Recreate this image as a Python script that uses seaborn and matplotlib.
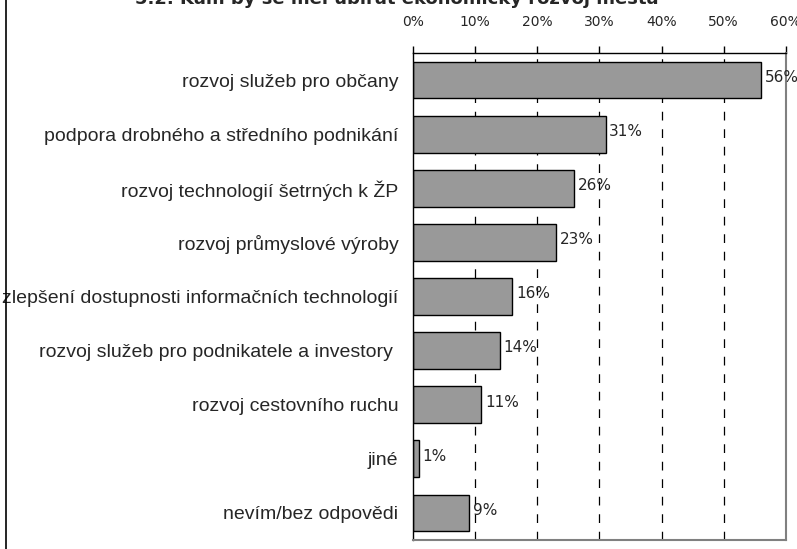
import matplotlib.pyplot as plt
import matplotlib.lines as mlines
import numpy as np
import seaborn as sns
import pandas as pd

# Kam by se měl ubírat ekonomický rozvoj města - podíl odpovědí (%)
categories = [
    "rozvoj služeb pro občany",
    "podpora drobného a středního podnikání",
    "rozvoj technologií šetrných k ŽP",
    "rozvoj průmyslové výroby",
    "zlepšení dostupnosti informačních technologií",
    "rozvoj služeb pro podnikatele a investory ",
    "rozvoj cestovního ruchu",
    "jiné",
    "nevím/bez odpovědi",
]
values = [56, 31, 26, 23, 16, 14, 11, 1, 9]
x_ticks = [0, 10, 20, 30, 40, 50, 60]
title = "5.2. Kam by se měl ubírat ekonomický rozvoj města"

df = pd.DataFrame({"kategorie": categories, "podil": values})

sns.set_style("white")
plt.rcParams['font.family'] = ['DejaVu Sans']

fig = plt.figure(figsize=(7.97, 5.49), dpi=100)
ax = fig.add_axes([0.518, 0.0164, 0.468, 0.8871])

sns.barplot(data=df, x="podil", y="kategorie", orient="h", color="#999999",
            edgecolor="black", linewidth=1.0, width=0.68, saturation=1, ax=ax)

ax.set_xlim(0, 60)
ax.set_ylim(len(categories) - 0.5, -0.5)

# osa x nahoře
ax.xaxis.tick_top()
ax.set_xticks(x_ticks)
ax.set_xticklabels([f"{t}%" for t in x_ticks], fontsize=10)
ax.tick_params(axis="x", direction="out", length=5, width=1, pad=12, color="black")
ax.set_xlabel("")
ax.set_ylabel("")

# čárkovaná mřížka
for t in x_ticks[1:-1]:
    ax.axvline(t, color="black", linestyle=(0, (7, 7)), linewidth=0.9, zorder=0)

# popisky kategorií, tiky mezi kategoriemi
ax.set_yticks(range(len(categories)))
ax.set_yticklabels(categories, fontsize=14, family="Liberation Sans")
ax.tick_params(axis="y", which="major", length=0, pad=10.5)
ax.set_yticks(np.arange(-0.5, len(categories), 1), minor=True)
ax.tick_params(axis="y", which="minor", direction="out", length=5, width=1, color="black")

for s in ["top", "left"]:
    ax.spines[s].set_color("black")
    ax.spines[s].set_linewidth(1.0)
for s in ["right", "bottom"]:
    ax.spines[s].set_color("#808080")
    ax.spines[s].set_linewidth(1.5)

# hodnoty u sloupců
for i, v in enumerate(values):
    ax.text(v + 0.6, i - 0.05, f"{v}%", va="center", ha="left", fontsize=11,
            clip_on=False)

fig.text(0.498, 1.003, title, ha="center", va="center", fontsize=13,
         fontweight="bold")

# rámeček vlevo
fig.add_artist(mlines.Line2D([0.0075, 0.0075], [0, 1], color="black", linewidth=1.2,
                             transform=fig.transFigure))

fig.savefig("out.png", dpi=100)
